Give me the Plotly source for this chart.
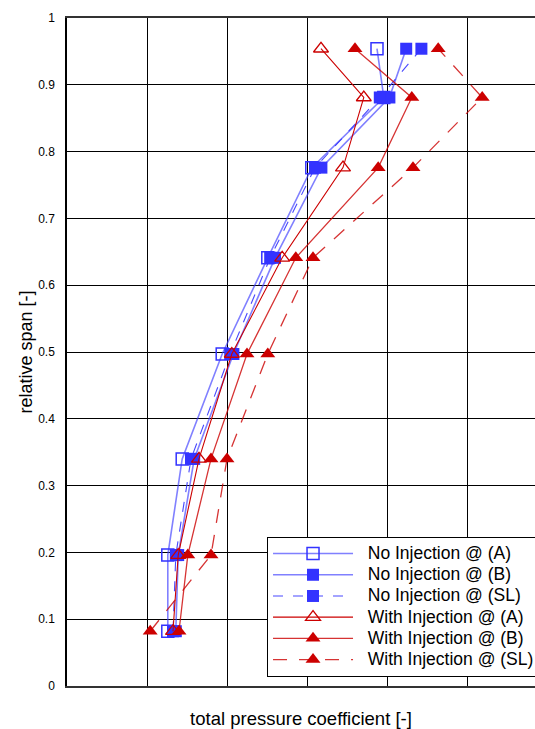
import plotly.graph_objects as go

# relative span levels (bottom -> top)
span = [0.082, 0.196, 0.340, 0.497, 0.641, 0.776, 0.881, 0.954]

# total pressure coefficient (grid units, no tick labels in source)
no_inj_A = [1.26, 1.26, 1.44, 1.94, 2.51, 3.06, 3.96, 3.875]
no_inj_B = [1.36, 1.39, 1.59, 2.08, 2.60, 3.18, 4.03, 4.24]
no_inj_SL = [1.325, 1.36, 1.55, 2.04, 2.54, 3.10, 3.91, 4.43]
with_inj_A = [1.325, 1.39, 1.65, 2.06, 2.69, 3.45, 3.71, 3.175]
with_inj_B = [1.40, 1.51, 1.80, 2.25, 2.86, 3.89, 4.31, 3.60]
with_inj_SL = [1.04, 1.80, 2.00, 2.51, 3.075, 4.325, 5.19, 4.64]

names = ["No Injection @ (A)", "No Injection @ (B)", "No Injection @ (SL)",
         "With Injection @ (A)", "With Injection @ (B)", "With Injection @ (SL)"]

BLUE = "rgb(51,51,255)"
RED = "rgb(204,0,0)"
FONT = "Liberation Sans, Arial, Helvetica, sans-serif"
NB = "\u00a0"

series = [
    (no_inj_A, dict(symbol="square-open", size=12, color=BLUE, line=dict(width=1.5, color=BLUE)),
     dict(color="rgba(60,60,255,0.65)", width=1.6, dash="solid")),
    (no_inj_B, dict(symbol="square", size=12, color=BLUE),
     dict(color="rgba(60,60,255,0.65)", width=1.6, dash="solid")),
    (no_inj_SL, dict(symbol="square", size=12, color=BLUE),
     dict(color="rgba(51,51,255,0.9)", width=1.1, dash="10px,10px")),
    (with_inj_A, dict(symbol="triangle-up-open", size=13, color=RED, line=dict(width=1.3, color=RED)),
     dict(color=RED, width=1.1, dash="solid")),
    (with_inj_B, dict(symbol="triangle-up", size=13, color=RED),
     dict(color="rgba(204,0,0,0.8)", width=1.3, dash="solid")),
    (with_inj_SL, dict(symbol="triangle-up", size=13, color=RED),
     dict(color="rgba(204,0,0,0.8)", width=1.3, dash="14px,12px")),
]

fig = go.Figure()
for name, (xs, mk, ln) in zip(names, series):
    label = '<span style="font-size:17.5px">' + NB * 2 + name + '</span>'
    fig.add_trace(go.Scatter(x=xs, y=span, mode="lines+markers", name=label,
                             marker=mk, line=ln))

fig.update_layout(
    width=535, height=729,
    margin=dict(l=67, r=0, t=18, b=43, autoexpand=False),
    paper_bgcolor="white", plot_bgcolor="white",
    font=dict(family=FONT, color="black"),
    showlegend=True,
    legend=dict(x=0.4274, y=0.2231, xanchor="left", yanchor="top",
                bgcolor="white", bordercolor="black", borderwidth=1,
                font=dict(size=14, family=FONT), itemwidth=80,
                tracegroupgap=0),
)
fig.update_xaxes(range=[0, 5.85], tick0=0, dtick=1, showticklabels=False,
                 showgrid=True, gridcolor="black", gridwidth=1,
                 showline=True, linecolor="#333", linewidth=2, mirror=True,
                 zeroline=False, ticks="",
                 title=dict(text="total pressure coefficient [-]",
                            font=dict(size=18.5, family=FONT), standoff=25))
fig.update_yaxes(range=[0, 1], tick0=0, dtick=0.1,
                 showgrid=True, gridcolor="black", gridwidth=1,
                 showline=True, linecolor="black", linewidth=1.5,
                 zeroline=False, ticks="outside", ticklen=8,
                 tickcolor="rgba(0,0,0,0)", tickfont=dict(size=12, family=FONT),
                 title=dict(text="relative span [-]",
                            font=dict(size=18, family=FONT), standoff=1))

fig.write_html("out.html")
